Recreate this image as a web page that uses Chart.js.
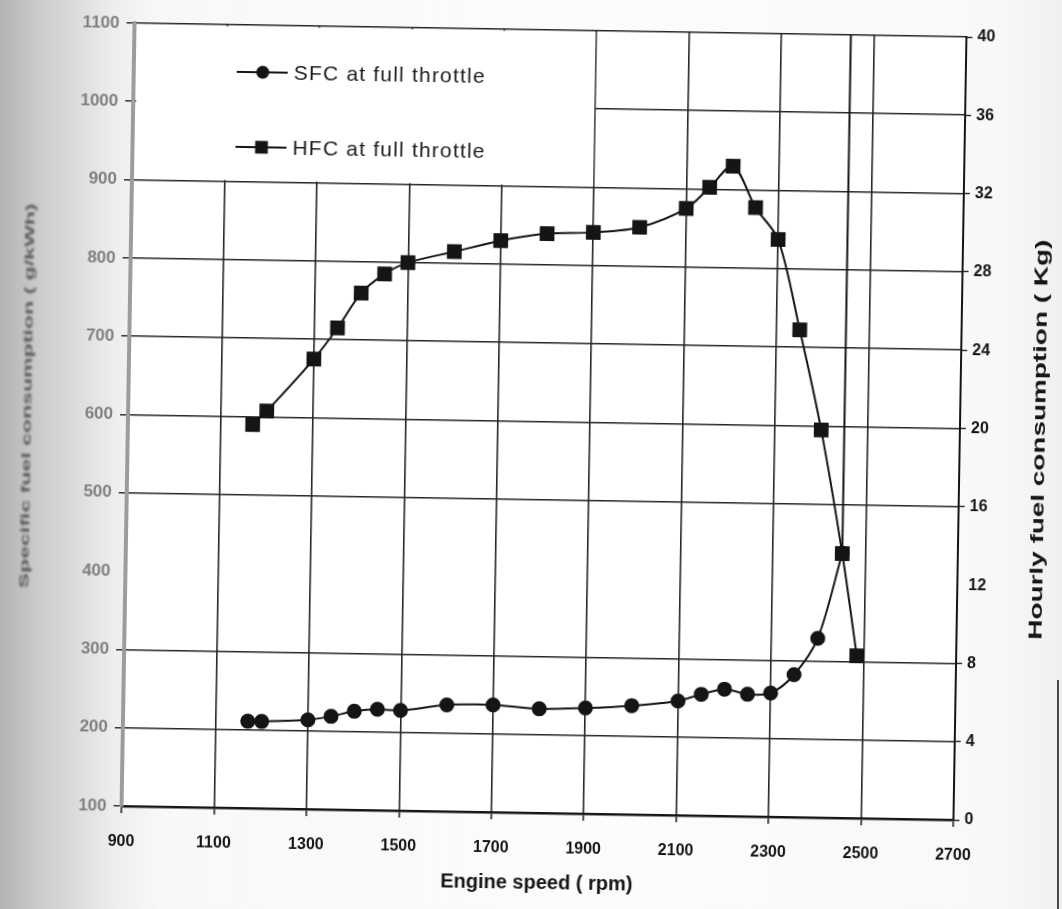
<!DOCTYPE html>
<html>
<head>
<meta charset="utf-8">
<title>Engine speed vs fuel consumption</title>
<script src="https://cdn.jsdelivr.net/npm/chart.js@4.4.1/dist/chart.umd.min.js"></script>
<style>
  html, body { margin: 0; padding: 0; width: 1062px; height: 909px; overflow: hidden; }
  body {
    background: linear-gradient(to right, #b3b3b3 0px, #c9c9c9 35px, #dedede 80px, #eeeeee 115px, #f8f8f8 160px, #fcfcfc 600px, #f8f8f8 1000px, #f0f0f0 1062px);
  }
  #sheet {
    position: absolute; left: 0; top: 0; width: 1062px; height: 909px;
    transform-origin: 544px 421px;
    transform: rotate(0.95deg);
  }
  #edge {
    position: absolute; left: 1057px; top: 680px; width: 2px; height: 229px;
    background: #4a4a4a;
  }
  canvas { display: block; }
</style>
</head>
<body>
<div id="edge"></div>
<div id="sheet"><canvas id="chart" width="1062" height="909"></canvas></div>
<script>
// Full-throttle test: engine speed (rpm)
const engineSpeed = [1170, 1200, 1300, 1350, 1400, 1450, 1500, 1600, 1700, 1800, 1900,
                     2000, 2100, 2150, 2200, 2250, 2300, 2350, 2400, 2450, 2485];
// Specific fuel consumption (g/kWh) at full throttle
const sfcFull = [211, 211, 214, 219, 226, 229, 228, 236, 237, 233, 235,
                 239, 246, 255, 262, 256, 258, 282, 329, 438, null];
// Hourly fuel consumption (kg) at full throttle
const hfcFull = [19.6, 20.3, 23.0, 24.6, 26.4, 27.4, 28.0, 28.6, 29.2, 29.6, 29.7,
                 30.0, 31.0, 32.1, 33.2, 31.1, 29.5, 24.9, 19.8, 13.5, 8.3];
// Vertical marker at the speed where both curves meet
const markerSpeed = 2450;

// Tick labels
const speedTicks = [900, 1100, 1300, 1500, 1700, 1900, 2100, 2300, 2500, 2700];
const sfcTicks = [100, 200, 300, 400, 500, 600, 700, 800, 900, 1000, 1100];
const hfcTicks = [0, 4, 8, 12, 16, 20, 24, 28, 32, 36, 40];
// One horizontal grid line is absent on this sheet
const sfcGridGap = 400;
const hfcGridGap = 12;

const SANS = "'Liberation Sans', Arial, sans-serif";
const INK = '#151515';
const GRID = '#262626';
const CLEAR = 'rgba(0,0,0,0)';

const sfcPoints = engineSpeed.map((x, i) => ({ x, y: sfcFull[i] }));
const hfcPoints = engineSpeed.map((x, i) => ({ x, y: hfcFull[i] }));
const markerBase = hfcFull[engineSpeed.indexOf(markerSpeed)];
const markerPoints = [{ x: markerSpeed, y: markerBase }, { x: markerSpeed, y: hfcTicks[hfcTicks.length - 1] }];

const legendPanel = { toSpeed: 1900, toSfc: 900 };
const plain = v => String(v);

const sheetPlugin = {
  id: 'sheet',
  beforeDraw(chart) {
    const { ctx, chartArea: a } = chart;
    ctx.save();
    ctx.fillStyle = '#ffffff';
    ctx.fillRect(a.left, a.top, a.right - a.left, a.bottom - a.top);
    ctx.restore();
  },
  beforeDatasetsDraw(chart) {
    const { ctx, chartArea: a, scales } = chart;
    // white legend panel covering the grid in the upper-left corner
    const px = scales.x.getPixelForValue(legendPanel.toSpeed);
    const py = scales.y.getPixelForValue(legendPanel.toSfc);
    ctx.save();
    ctx.fillStyle = '#ffffff';
    ctx.fillRect(a.left + 3, a.top + 1.5, px - 1 - (a.left + 3), py - 1.2 - (a.top + 1.5));

    const entries = chart.data.datasets.filter(d => d.inLegend);
    entries.forEach((d, i) => {
      const y = a.top + 47 + i * 75;
      const x0 = a.left + 103;
      ctx.strokeStyle = d.borderColor;
      ctx.lineWidth = 2;
      ctx.beginPath();
      ctx.moveTo(x0, y);
      ctx.lineTo(x0 + 51, y);
      ctx.stroke();
      ctx.fillStyle = d.pointBackgroundColor;
      Chart.helpers.drawPoint(ctx, {
        pointStyle: d.pointStyle,
        radius: d.pointRadius,
        rotation: 0,
        borderWidth: 0
      }, x0 + 26, y);
      ctx.fillStyle = '#1c1c1c';
      ctx.font = '21px ' + SANS;
      ctx.textBaseline = 'middle';
      ctx.textAlign = 'left';
      if ('letterSpacing' in ctx) ctx.letterSpacing = '1.2px';
      ctx.fillText(d.label, x0 + 57, y + 1);
      if ('letterSpacing' in ctx) ctx.letterSpacing = '0px';
    });
    ctx.restore();
  },
  afterDraw(chart) {
    const { ctx, chartArea: a } = chart;
    const mid = (a.top + a.bottom) / 2;
    // right axis title, reading upwards
    ctx.save();
    ctx.translate(a.right + 80, mid + 10);
    ctx.rotate(-Math.PI / 2);
    ctx.font = 'bold 18px ' + SANS;
    ctx.textAlign = 'center';
    ctx.textBaseline = 'middle';
    ctx.fillStyle = INK;
    const rText = 'Hourly fuel consumption ( Kg)';
    const rw = ctx.measureText(rText).width;
    ctx.scale(400 / rw, 1);
    ctx.fillText(rText, 0, 0);
    ctx.restore();
    // left axis title, faint
    ctx.save();
    ctx.translate(a.left - 101, mid - 17);
    ctx.rotate(-Math.PI / 2);
    ctx.font = 'bold 13px ' + SANS;
    ctx.textAlign = 'center';
    ctx.textBaseline = 'middle';
    ctx.fillStyle = '#5a5a5a';
    ctx.filter = 'blur(0.9px)';
    const lText = 'Specific fuel consumption ( g/kWh)';
    const lw = ctx.measureText(lText).width;
    ctx.scale(385 / lw, 1);
    ctx.fillText(lText, 0, 0);
    ctx.restore();
  }
};

const edgeClear = (lo, hi) => c => (c.tick && (c.tick.value === lo || c.tick.value === hi)) ? CLEAR : GRID;

new Chart(document.getElementById('chart'), {
  type: 'line',
  data: {
    datasets: [
      {
        label: 'SFC at full throttle',
        inLegend: true,
        data: sfcPoints,
        yAxisID: 'y',
        borderColor: INK,
        backgroundColor: INK,
        pointBackgroundColor: INK,
        pointBorderColor: INK,
        pointStyle: 'circle',
        pointRadius: 6.5,
        borderWidth: 2,
        tension: 0.3,
        order: 1
      },
      {
        label: 'HFC at full throttle',
        inLegend: true,
        data: hfcPoints,
        yAxisID: 'y2',
        borderColor: INK,
        backgroundColor: INK,
        pointBackgroundColor: INK,
        pointBorderColor: INK,
        pointStyle: 'rect',
        pointRadius: 9,
        borderWidth: 2,
        tension: 0.3,
        order: 0
      },
      {
        label: 'marker',
        inLegend: false,
        data: markerPoints,
        yAxisID: 'y2',
        borderColor: INK,
        borderWidth: 2,
        pointRadius: 0,
        tension: 0,
        order: 2
      }
    ]
  },
  options: {
    responsive: false,
    animation: false,
    devicePixelRatio: 1,
    layout: { padding: { top: 30, left: 0, right: 0, bottom: 0 } },
    plugins: { legend: { display: false }, tooltip: { enabled: false } },
    scales: {
      x: {
        type: 'linear',
        position: 'bottom',
        min: speedTicks[0],
        max: speedTicks[speedTicks.length - 1],
        afterBuildTicks: s => { s.ticks = speedTicks.map(v => ({ value: v })); },
        afterFit: s => { s.height = 96; },
        grid: {
          color: edgeClear(speedTicks[0], speedTicks[speedTicks.length - 1]),
          lineWidth: 1.6,
          tickLength: 7,
          tickColor: GRID,
          tickWidth: 1.6
        },
        border: { color: INK, width: 2.5 },
        ticks: {
          font: { family: SANS, size: 16, weight: 'bold' },
          color: INK,
          padding: 19,
          maxRotation: 0,
          autoSkip: false,
          callback: plain
        },
        title: {
          display: true,
          text: 'Engine speed ( rpm)',
          font: { family: SANS, size: 20, weight: 'bold' },
          color: INK,
          padding: { top: 0, bottom: 14 }
        }
      },
      y: {
        type: 'linear',
        position: 'left',
        min: sfcTicks[0],
        max: sfcTicks[sfcTicks.length - 1],
        afterBuildTicks: s => { s.ticks = sfcTicks.map(v => ({ value: v })); },
        afterFit: s => { s.width = 128; },
        grid: {
          color: c => (c.tick && c.tick.value === sfcGridGap) ? CLEAR : GRID,
          lineWidth: 1.6,
          tickLength: 8,
          tickColor: c => (c.tick && c.tick.value === sfcGridGap) ? CLEAR : GRID,
          tickWidth: 1.4
        },
        border: { color: '#9c9c9c', width: 4 },
        ticks: {
          font: { family: SANS, size: 17, weight: 'bold' },
          color: '#808080',
          padding: 7,
          callback: plain
        }
      },
      y2: {
        type: 'linear',
        position: 'right',
        min: hfcTicks[0],
        max: hfcTicks[hfcTicks.length - 1],
        afterBuildTicks: s => { s.ticks = hfcTicks.map(v => ({ value: v })); },
        afterFit: s => { s.width = 102; },
        grid: {
          drawOnChartArea: false,
          tickLength: 6,
          tickColor: c => (c.tick && c.tick.value === hfcGridGap) ? CLEAR : GRID,
          tickWidth: 1.4
        },
        border: { color: INK, width: 2 },
        ticks: {
          font: { family: SANS, size: 16, weight: 'bold' },
          color: INK,
          padding: 5,
          callback: plain
        }
      }
    }
  },
  plugins: [sheetPlugin]
});
</script>
</body>
</html>
